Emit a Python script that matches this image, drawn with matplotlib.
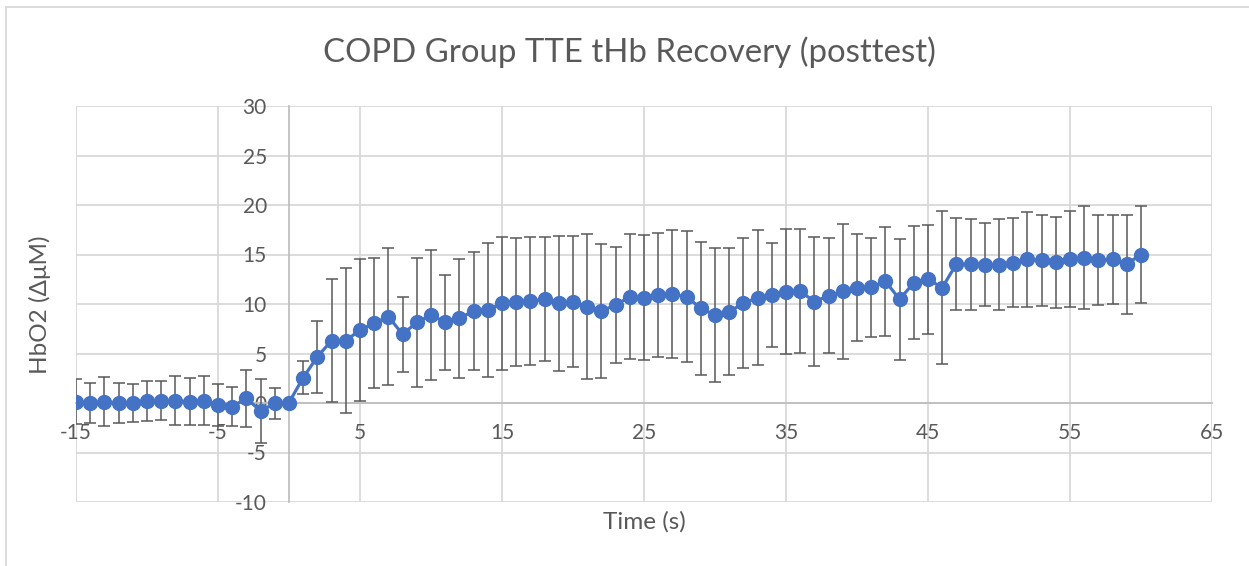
import numpy as np
import matplotlib.pyplot as plt
from matplotlib.lines import Line2D

# data
time_s = list(range(-15, 61))
hbo2 = [0.13, -0.03, 0.13, 0.0, -0.03, 0.2, 0.24, 0.24, 0.13, 0.24,
        -0.2, -0.37, 0.47, -0.8, -0.03, 0.05,
        2.56, 4.68, 6.3, 6.3, 7.37, 8.05, 8.72, 6.94, 8.15, 8.9,
        8.15, 8.55, 9.3, 9.4, 10.07, 10.17, 10.3, 10.47, 10.07, 10.24,
        9.73, 9.3, 9.9, 10.74, 10.64, 10.9, 10.98, 10.74, 9.56, 8.89,
        9.23, 10.07, 10.64, 10.87, 11.25, 11.3, 10.24, 10.84, 11.28, 11.65,
        11.68, 12.3, 10.47, 12.15, 12.5, 11.65, 14.04, 14.0, 13.95, 13.95,
        14.17, 14.5, 14.4, 14.2, 14.55, 14.68, 14.44, 14.5, 14.04, 15.0]
sd = [2.25, 2.0, 2.5, 2.0, 1.9, 2.0, 2.0, 2.5, 2.4, 2.5,
      2.1, 2.0, 2.9, 3.2, 1.55, 0.0,
      1.7, 3.65, 6.2, 7.3, 7.2, 6.55, 6.9, 3.8, 6.5, 6.6,
      4.8, 6.0, 6.0, 6.75, 6.7, 6.45, 6.5, 6.25, 6.8, 6.6,
      7.3, 6.8, 5.9, 6.3, 6.3, 6.3, 6.45, 6.6, 6.7, 6.8,
      6.45, 6.55, 6.8, 5.25, 6.35, 6.25, 6.5, 5.8, 6.8, 5.4,
      5.0, 5.5, 6.1, 5.7, 5.5, 7.7, 4.63, 4.6, 4.2, 4.6,
      4.5, 4.8, 4.6, 4.6, 4.85, 5.2, 4.5, 4.5, 5.0, 4.9]
x_ticks = list(range(-15, 66, 10))
y_ticks = list(range(-10, 31, 5))

W, H = 1249, 566
plt.rcParams['font.family'] = ['Lato', 'DejaVu Sans']
plt.rcParams['axes.unicode_minus'] = False
fig = plt.figure(figsize=(W / 100, H / 100), dpi=100)
txt = '#595959'
grid = '#D9D9D9'

# chart border (left and top only visible)
fig.add_artist(Line2D([5.5 / W, 5.5 / W], [0, 1 - 6.5 / H], color=grid, lw=1.3))
fig.add_artist(Line2D([5.5 / W, 1], [1 - 6.5 / H, 1 - 6.5 / H], color=grid, lw=1.3))

ax = fig.add_axes([76 / W, (H - 502) / H, 1136 / W, 396 / H])
ax.set_xlim(-15, 65)
ax.set_ylim(-10, 30)
ax.set_xticks(x_ticks)
ax.set_yticks(y_ticks)
ax.grid(True, color=grid, lw=1.3, zorder=0)
ax.set_axisbelow(True)
for gl in ax.get_xgridlines() + ax.get_ygridlines():
    gl.set_clip_on(False)

ax.spines['top'].set_visible(False)
ax.spines['right'].set_visible(False)
ax.spines['left'].set_position(('data', 0))
ax.spines['bottom'].set_position(('data', 0))
for s in ['left', 'bottom']:
    ax.spines[s].set_color('#BFBFBF')
    ax.spines[s].set_linewidth(1.3)

ax.tick_params(axis='both', length=0, labelsize=15, labelcolor=txt)
ax.tick_params(axis='y', pad=16)
ax.tick_params(axis='x', pad=14.5)

ax.errorbar(time_s, hbo2, yerr=sd, fmt='none', ecolor='#595959',
            elinewidth=1.1, capsize=4.3, capthick=1.1, zorder=3)
ax.plot(time_s, hbo2, color='#4472C4', lw=2.3, marker='o', markersize=10,
        zorder=4)

fig.text(629.5 / W, 1 - 52 / H, 'COPD Group TTE tHb Recovery (posttest)',
         ha='center', va='center', fontsize=23.8, color=txt)
fig.text(644 / W, 1 - 522 / H, 'Time (s)', ha='center', va='center',
         fontsize=17.5, color=txt)
fig.text(40 / W, 1 - 305 / H, 'HbO2 (ΔμM)', ha='center', va='center',
         rotation=90, fontsize=17.5, color=txt)

fig.savefig('out.png', dpi=100)
